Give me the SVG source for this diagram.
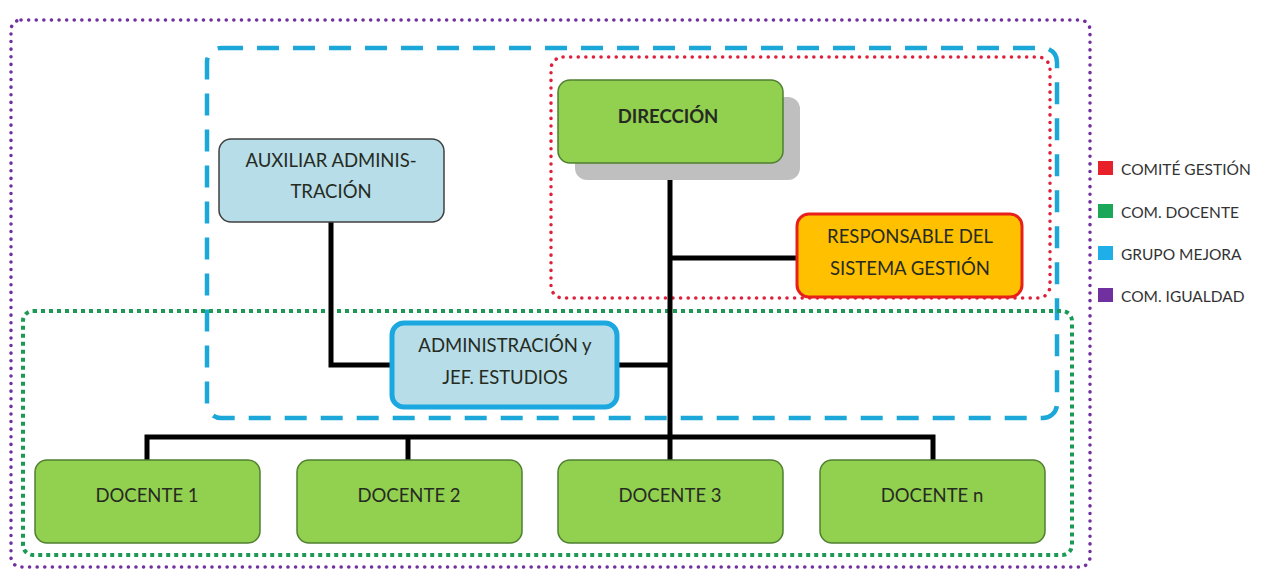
<svg xmlns="http://www.w3.org/2000/svg" width="1268" height="570" viewBox="0 0 1268 570">
<style>
text{font-family:Lato,"Open Sans","Liberation Sans",sans-serif;font-size:18.5px;fill:#262b22;text-anchor:middle}
.green{fill:#92d050;stroke:#4f7f30;stroke-width:1.5}
.lblue{fill:#b7dde8;stroke:#404040;stroke-width:1.5}
.conn{stroke:#000;stroke-width:5;fill:none}
.leg{text-anchor:start;font-size:15.5px;fill:#333}
</style>
<rect width="1268" height="570" fill="#fff"/>
<g id="groups" fill="none">
<rect x="11" y="20" width="1079" height="547" rx="10" stroke="#7030a0" stroke-width="3.5" stroke-dasharray="0.1 7.5" stroke-linecap="round"/>
<rect x="207" y="48" width="850" height="370" rx="14" stroke="#1ba8d8" stroke-width="4.5" stroke-dasharray="22 14"/>
<rect x="551" y="57" width="499" height="241" rx="12" stroke="#e0203a" stroke-width="3.5" stroke-dasharray="0.1 7.5" stroke-linecap="round"/>
<rect x="23" y="311" width="1049" height="244" rx="10" stroke="#1a9a55" stroke-width="4" stroke-dasharray="4 4"/>
</g>
<g id="connectors" class="conn">
<line x1="670" y1="160" x2="670" y2="461"/>
<line x1="670" y1="258" x2="798" y2="258"/>
<line x1="616" y1="365" x2="670" y2="365"/>
<polyline points="331,221 331,365 393,365"/>
<polyline points="147,461 147,437 933,437 933,461"/>
<line x1="408" y1="437" x2="408" y2="461"/>
</g>
<g id="direccion">
<rect x="575" y="97" width="225" height="83" rx="12" fill="#bfbfbf"/>
<rect class="green" x="558" y="80" width="225" height="83" rx="12"/>
<text x="668" y="123" style="font-weight:bold">DIRECCIÓN</text>
</g>
<g id="auxiliar">
<rect class="lblue" x="219" y="139" width="225" height="83" rx="12"/>
<text x="331" y="167">AUXILIAR ADMINIS-</text>
<text x="331" y="198">TRACIÓN</text>
</g>
<g id="responsable">
<rect x="797" y="214" width="225" height="83" rx="12" fill="#ffc000" stroke="#e8201a" stroke-width="3"/>
<text x="910" y="243">RESPONSABLE  DEL</text>
<text x="910" y="275">SISTEMA GESTIÓN</text>
</g>
<g id="administracion">
<rect x="392" y="323" width="225" height="84" rx="12" fill="#b7dde8" stroke="#1ba8e0" stroke-width="5"/>
<text x="505" y="352">ADMINISTRACIÓN y</text>
<text x="505" y="384">JEF. ESTUDIOS</text>
</g>
<g id="docente1">
<rect class="green" x="35" y="460" width="225" height="83" rx="12"/>
<text x="147" y="502">DOCENTE 1</text>
</g>
<g id="docente2">
<rect class="green" x="297" y="460" width="225" height="83" rx="12"/>
<text x="409" y="502">DOCENTE 2</text>
</g>
<g id="docente3">
<rect class="green" x="558" y="460" width="225" height="83" rx="12"/>
<text x="670" y="502">DOCENTE 3</text>
</g>
<g id="docenten">
<rect class="green" x="820" y="460" width="225" height="83" rx="12"/>
<text x="932" y="502">DOCENTE n</text>
</g>
<g id="legend">
<rect x="1098" y="161" width="15" height="14" fill="#e8202a"/>
<text class="leg" x="1121" y="175">COMITÉ GESTIÓN</text>
<rect x="1098" y="204" width="15" height="14" fill="#1aa858"/>
<text class="leg" x="1121" y="218">COM. DOCENTE</text>
<rect x="1098" y="246" width="15" height="14" fill="#1eaee8"/>
<text class="leg" x="1121" y="260">GRUPO MEJORA</text>
<rect x="1098" y="288" width="15" height="14" fill="#7030a0"/>
<text class="leg" x="1121" y="302">COM. IGUALDAD</text>
</g>
</svg>
